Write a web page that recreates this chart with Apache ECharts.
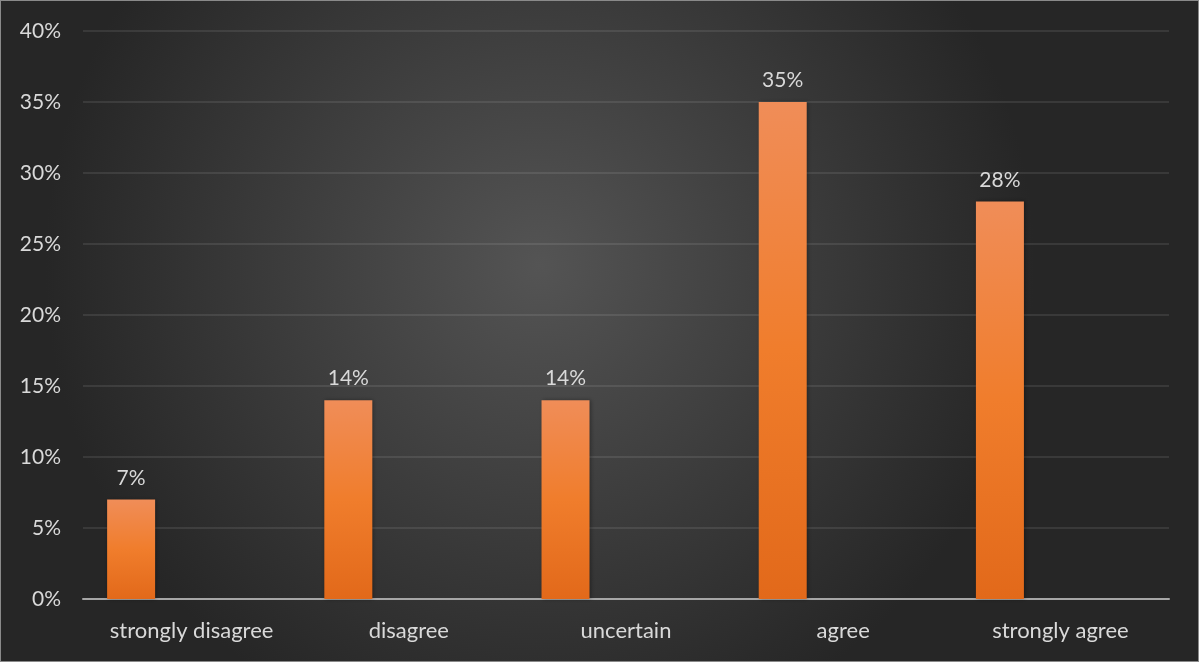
<!DOCTYPE html>
<html>
<head>
<meta charset="utf-8">
<script src="https://cdn.jsdelivr.net/npm/echarts@6/dist/echarts.min.js"></script>
<style>
html,body{margin:0;padding:0;width:1199px;height:662px;overflow:hidden;background:#2a2a2a;}
#c{width:1199px;height:662px;box-sizing:border-box;border:1px solid #8a8a8a;}
</style>
</head>
<body>
<div id="c"></div>
<script>
const categories = ['strongly disagree', 'disagree', 'uncertain', 'agree', 'strongly agree'];
const values = [7, 14, 14, 35, 28];
const yTicks = { min: 0, max: 40, interval: 5 };

const chart = echarts.init(document.getElementById('c'), null, {renderer: 'canvas'});
const font = 'Lato, "Open Sans", sans-serif';
chart.setOption({
  animation: false,
  backgroundColor: {
    type: 'radial', x: 0.45, y: 0.4, r: 0.75,
    colorStops: [
      {offset: 0, color: '#545454'},
      {offset: 1, color: '#262626'}
    ]
  },
  grid: {left: 82, right: 29, top: 30, bottom: 62},
  xAxis: {
    type: 'category',
    data: categories,
    axisLine: {lineStyle: {color: '#a6a6a6', width: 2}},
    axisTick: {show: false},
    axisLabel: {color: '#d9d9d9', fontSize: 22, fontFamily: font, margin: 21}
  },
  yAxis: {
    type: 'value',
    min: yTicks.min, max: yTicks.max, interval: yTicks.interval,
    axisLine: {show: false},
    axisTick: {show: false},
    splitLine: {lineStyle: {color: 'rgba(255,255,255,0.12)', width: 1.5}},
    axisLabel: {color: '#d9d9d9', fontSize: 21, fontFamily: font, margin: 22,
      formatter: v => v + '%'}
  },
  series: [
    {
      type: 'bar',
      data: values,
      barWidth: 48,
      barGap: '152%',
      itemStyle: {
        color: {type: 'linear', x: 0, y: 0, x2: 0, y2: 1,
          colorStops: [{offset: 0, color: '#f08d58'}, {offset: 0.5, color: '#f07d2c'}, {offset: 1, color: '#e2691a'}]},
        shadowColor: 'rgba(0,0,0,0.35)', shadowBlur: 4, shadowOffsetX: 1
      },
      label: {show: true, position: 'top', distance: 11, color: '#d9d9d9', fontSize: 21, fontFamily: font,
        formatter: p => p.value + '%'}
    },
    {
      type: 'bar',
      data: [],
      barWidth: 48
    }
  ]
});
</script>
</body>
</html>
